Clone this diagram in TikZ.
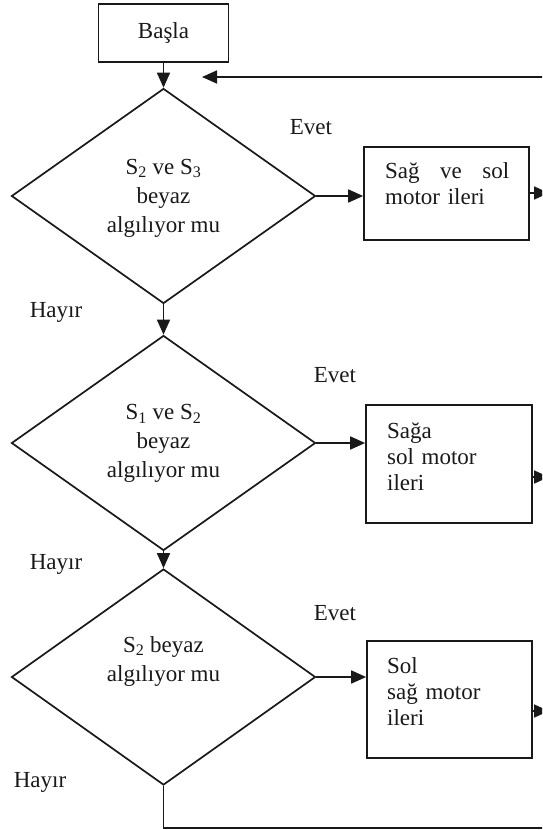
\documentclass[tikz,border=0pt]{standalone}
\usepackage{fontspec}
\setmainfont{Liberation Serif}
\usetikzlibrary{shapes.geometric,arrows.meta}
\begin{document}
\begin{tikzpicture}[x=1pt,y=-1pt,
  every node/.style={font=\fontsize{23}{29}\selectfont, text=black!90},
  line/.style={line width=1.7pt, black!90},
  flow/.style={line, -{Triangle[length=15pt,width=13pt]}},
  decision/.style={draw=black!90, line width=1.7pt, diamond, inner sep=0pt,
    minimum width=304pt, minimum height=215pt},
  action/.style={draw=black!90, line width=1.7pt, rectangle, inner sep=0pt},
  caption/.style={inner sep=0pt},
  boxtext/.style={inner sep=0pt, text width=124pt, align=left, anchor=base west,
    font=\fontsize{23}{26}\selectfont}]

\useasboundingbox (0,0) rectangle (542,830);
\clip (0,0) rectangle (542,830);

% start box
\node[action, minimum width=130pt, minimum height=58pt] (start) at (163.5,33) {Başla};

% decisions
\node[decision] (d1) at (163.5,196) {};
\node[decision] (d2) at (163.5,443) {};
\node[decision, minimum height=216pt] (d3) at (163.5,677) {};

\node[caption, align=center] (q1) at (163.5,198) {S\textsubscript{2} ve S\textsubscript{3}\\beyaz\\algılıyor mu};
\node[caption, align=center] (q2) at (163.5,443.5) {S\textsubscript{1} ve S\textsubscript{2}\\beyaz\\algılıyor mu};
\node[caption, align=center] (q3) at (163.5,661) {S\textsubscript{2} beyaz\\algılıyor mu};

% actions
\node[action, minimum width=165pt, minimum height=93pt] (b1) at (446.5,193.5) {};
\node[action, minimum width=166pt, minimum height=118pt] (b2) at (449,464) {};
\node[action, minimum width=165pt, minimum height=117pt] (b3) at (449.5,699.5) {};

\node[boxtext] (a1) at (385,178) {Sağ\hfill ve\hfill sol\\motor ileri};
\node[boxtext] (a2) at (387,438) {Sağa\\sol motor\\ileri};
\node[boxtext] (a3) at (387,673) {Sol\\sağ motor\\ileri};

% branch labels
\node[caption] (e1) at (311,127) {Evet};
\node[caption] (e2) at (335,375) {Evet};
\node[caption] (e3) at (335,613) {Evet};
\node[caption] (h1) at (56,312) {Hayır};
\node[caption] (h2) at (56,564) {Hayır};
\node[caption] (h3) at (40,782) {Hayır};

% free ends of the loop and the outgoing arrows
\coordinate (loopin) at (560,77);
\coordinate (looptip) at (202,77);
\coordinate (o1) at (549,193);
\coordinate (o2) at (549,477);
\coordinate (o3) at (549,711);
\coordinate (bottomcorner) at (163.5,828);
\coordinate (bottomout) at (560,828);

% main flow
\draw[flow] (start.south) -- (d1.north);
\draw[flow] (d1.south) -- (d2.north);
\draw[flow] (d2.south) -- (d3.north);
\draw[line] (d3.south) -- (bottomcorner) -- (bottomout);

% yes branches
\draw[flow] (d1.east) -- (d1.east -| b1.west);
\draw[flow] (d2.east) -- (d2.east -| b2.west);
\draw[flow] (d3.east) -- (d3.east -| b3.west);

\draw[flow] (b1.east |- o1) -- (o1);
\draw[flow] (b2.east |- o2) -- (o2);
\draw[flow] (b3.east |- o3) -- (o3);

% return arrow
\draw[flow] (loopin) -- (looptip);
\end{tikzpicture}
\end{document}
